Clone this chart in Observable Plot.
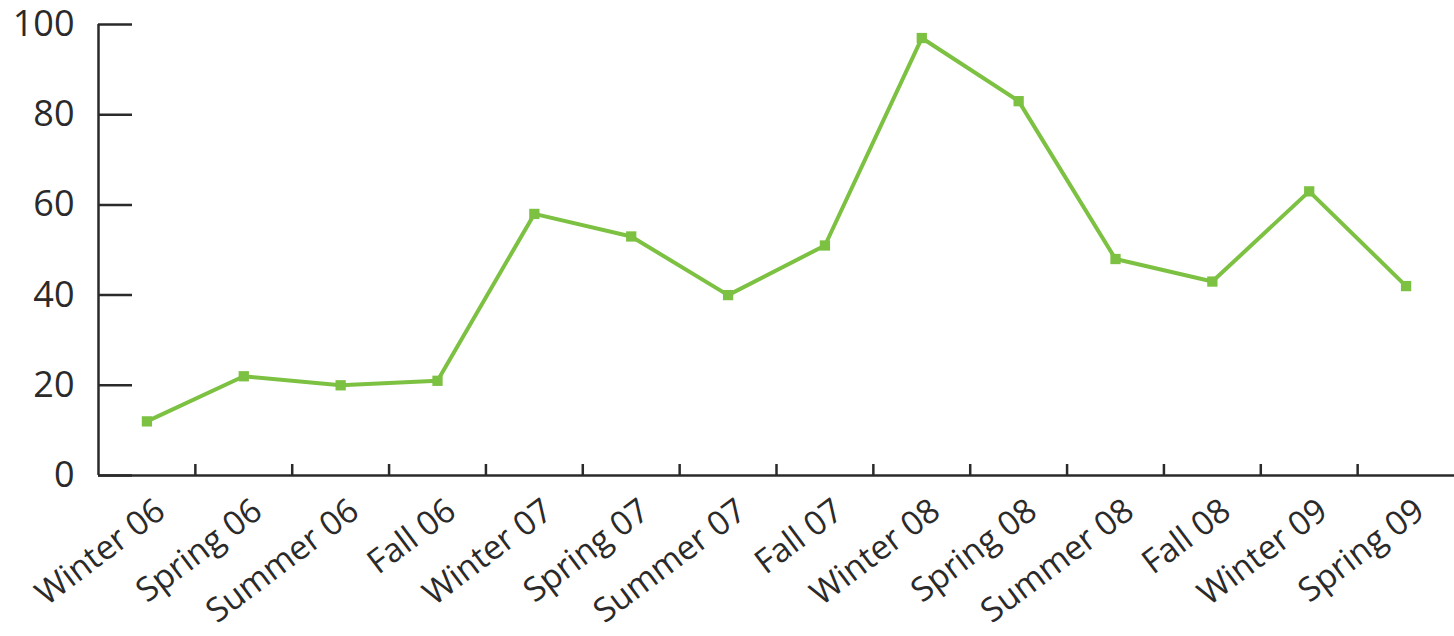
<!DOCTYPE html>
<html>
<head>
<meta charset="utf-8">
<script src="https://cdn.jsdelivr.net/npm/d3@7"></script>
<script src="https://cdn.jsdelivr.net/npm/@observablehq/plot@0.6"></script>
<style>
  html, body { margin: 0; padding: 0; background: #fff; }
  #chart svg { display: block; overflow: visible; }
</style>
</head>
<body>
<div id="chart"></div>
<script>
const seasons = ["Winter 06", "Spring 06", "Summer 06", "Fall 06", "Winter 07", "Spring 07", "Summer 07", "Fall 07", "Winter 08", "Spring 08", "Summer 08", "Fall 08", "Winter 09", "Spring 09"];
const values = [12, 22, 20, 21, 58, 53, 40, 51, 97, 83, 48, 43, 63, 42];
const yTicks = [0, 20, 40, 60, 80, 100];

const data = seasons.map((s, i) => ({i, season: s, value: values[i]}));
const boundaries = seasons.slice(1).map((s, i) => i + 0.5);
const centers = seasons.map((s, i) => i);

const ink = "#2b2a2a";
const green = "#7cc142";

const chart = Plot.plot({
  width: 1454,
  height: 636,
  marginLeft: 98,
  marginRight: 0,
  marginTop: 24,
  marginBottom: 161,
  style: {fontFamily: "'Open Sans', sans-serif", color: ink, background: "#fff"},
  x: {type: "linear", domain: [-0.5, 13.5], label: null},
  y: {domain: [0, 100], label: null},
  marks: [
    Plot.axisY(yTicks, {anchor: "left", tickSize: 34, dx: 34, text: null, stroke: ink, strokeWidth: 2.5, label: null}),
    Plot.axisY(yTicks, {anchor: "left", tickSize: 0, tickPadding: 24, fontSize: 36, fill: ink, label: null}),
    Plot.axisX(boundaries, {anchor: "bottom", tickSize: 11, dy: -11, text: null, stroke: ink, strokeWidth: 2.5, label: null}),
    Plot.axisX(centers, {anchor: "bottom", tickSize: 0, tickRotate: -37, tickFormat: i => seasons[i], fontSize: 33.5, fill: ink, textAnchor: "end", dx: 14, dy: 19, label: null}),
    Plot.ruleY([0], {stroke: ink, strokeWidth: 2.5}),
    Plot.ruleX([-0.5], {stroke: ink, strokeWidth: 2.5}),
    Plot.line(data, {x: "i", y: "value", stroke: green, strokeWidth: 4}),
    Plot.dot(data, {x: "i", y: "value", symbol: "square", r: 5.8, fill: green, stroke: "none"})
  ]
});
document.getElementById("chart").append(chart);
</script>
</body>
</html>
